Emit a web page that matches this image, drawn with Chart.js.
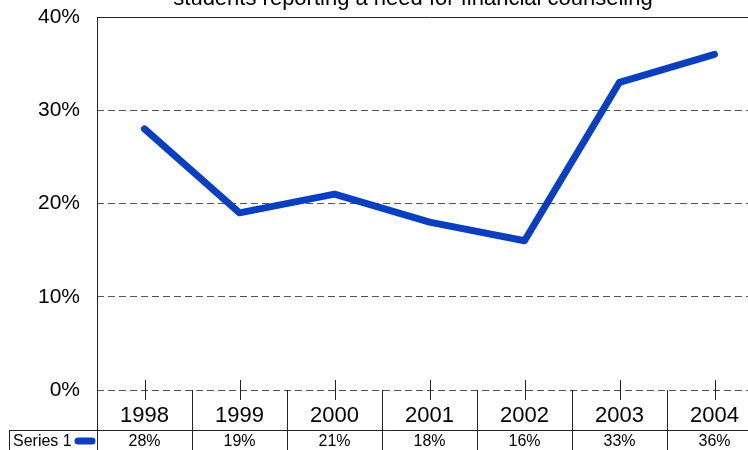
<!DOCTYPE html>
<html>
<head>
<meta charset="utf-8">
<script src="https://cdn.jsdelivr.net/npm/chart.js@4"></script>
<style>
  html, body { margin: 0; padding: 0; background: #fff; overflow: hidden; }
  #wrap { width: 748px; height: 450px; overflow: hidden; position: relative; }
  #c { position: absolute; left: 0; top: 0; }
</style>
</head>
<body>
<div id="wrap"><canvas id="c" width="780" height="450"></canvas></div>
<script>
const years = ['1998', '1999', '2000', '2001', '2002', '2003', '2004'];
const values = [28, 19, 21, 18, 16, 33, 36];
const seriesName = 'Series 1';
const titleText = 'students reporting a need for financial counseling';
const yMin = 0;
const yMax = 40;
const yStep = 10;

const lineColor = '#0a3fbf';
const fontFamily = '"Liberation Sans", Arial, sans-serif';

// title, frame and the data table under the x axis
const tablePlugin = {
    id: 'tablePlugin',
    afterDraw(chart) {
        const ctx = chart.ctx;
        const area = chart.chartArea;
        const x = chart.scales.x;
        const h = chart.height;
        const half = (x.getPixelForValue(1) - x.getPixelForValue(0)) / 2;
        const rowTop = area.bottom + 40;

        ctx.save();
        ctx.strokeStyle = '#222';
        ctx.lineWidth = 1;

        // top border and left axis line
        ctx.beginPath();
        ctx.moveTo(area.left, area.top + 0.5);
        ctx.lineTo(area.right, area.top + 0.5);
        ctx.moveTo(area.left + 0.5, area.top);
        ctx.lineTo(area.left + 0.5, h);
        ctx.stroke();

        // tick marks across the zero line
        ctx.beginPath();
        years.forEach((_, i) => {
            const px = Math.round(x.getPixelForValue(i)) + 0.5;
            ctx.moveTo(px, area.bottom - 10);
            ctx.lineTo(px, area.bottom + 10);
        });
        ctx.stroke();

        // table grid
        ctx.beginPath();
        for (let i = 0; i <= years.length; i++) {
            const px = Math.round(x.getPixelForValue(i) - half) + 0.5;
            ctx.moveTo(px, area.bottom);
            ctx.lineTo(px, h);
        }
        ctx.moveTo(9, rowTop + 0.5);
        ctx.lineTo(area.right, rowTop + 0.5);
        ctx.moveTo(9.5, rowTop);
        ctx.lineTo(9.5, h);
        ctx.stroke();

        // values row
        ctx.fillStyle = '#000';
        ctx.font = '16px ' + fontFamily;
        ctx.textBaseline = 'middle';
        ctx.textAlign = 'center';
        values.forEach((v, i) => {
            ctx.fillText(v + '%', x.getPixelForValue(i), rowTop + 12);
        });
        ctx.textAlign = 'left';
        ctx.fillText(seriesName, 13, rowTop + 12);

        // legend key
        ctx.strokeStyle = lineColor;
        ctx.lineWidth = 7;
        ctx.lineCap = 'round';
        ctx.beginPath();
        ctx.moveTo(78, rowTop + 11);
        ctx.lineTo(92, rowTop + 11);
        ctx.stroke();

        // title, cut at the top edge
        ctx.fillStyle = '#000';
        ctx.font = '22px ' + fontFamily;
        ctx.textAlign = 'center';
        ctx.textBaseline = 'alphabetic';
        ctx.fillText(titleText, 413, 5);
        ctx.restore();
    }
};

new Chart(document.getElementById('c'), {
    type: 'line',
    data: {
        labels: years,
        datasets: [{
            label: seriesName,
            data: values,
            borderColor: lineColor,
            backgroundColor: lineColor,
            borderWidth: 7,
            borderCapStyle: 'round',
            borderJoinStyle: 'round',
            pointRadius: 0,
            tension: 0
        }]
    },
    options: {
        responsive: false,
        animation: false,
        layout: { padding: { left: 0, right: 18, top: 17, bottom: 0 } },
        plugins: {
            legend: { display: false },
            title: { display: false },
            tooltip: { enabled: false }
        },
        scales: {
            x: {
                offset: true,
                grid: { display: false, drawTicks: false },
                border: { display: false },
                ticks: {
                    color: '#000',
                    font: { family: fontFamily, size: 22 },
                    padding: 13,
                    maxRotation: 0
                },
                afterFit(scale) {
                    scale.height = 60;
                    scale.paddingLeft = 0;
                    scale.paddingRight = 0;
                }
            },
            y: {
                min: yMin,
                max: yMax,
                ticks: {
                    stepSize: yStep,
                    color: '#000',
                    font: { family: fontFamily, size: 21 },
                    padding: 17,
                    callback: v => v + '%'
                },
                grid: {
                    drawTicks: false,
                    color: c => c.tick && c.tick.value === yMax ? 'rgba(0,0,0,0)' : '#555',
                    lineWidth: 1
                },
                border: { display: false, dash: [7, 4] },
                afterFit(scale) {
                    scale.width = 97;
                    scale.paddingTop = 0;
                    scale.paddingBottom = 0;
                }
            }
        }
    },
    plugins: [tablePlugin]
});
</script>
</body>
</html>
